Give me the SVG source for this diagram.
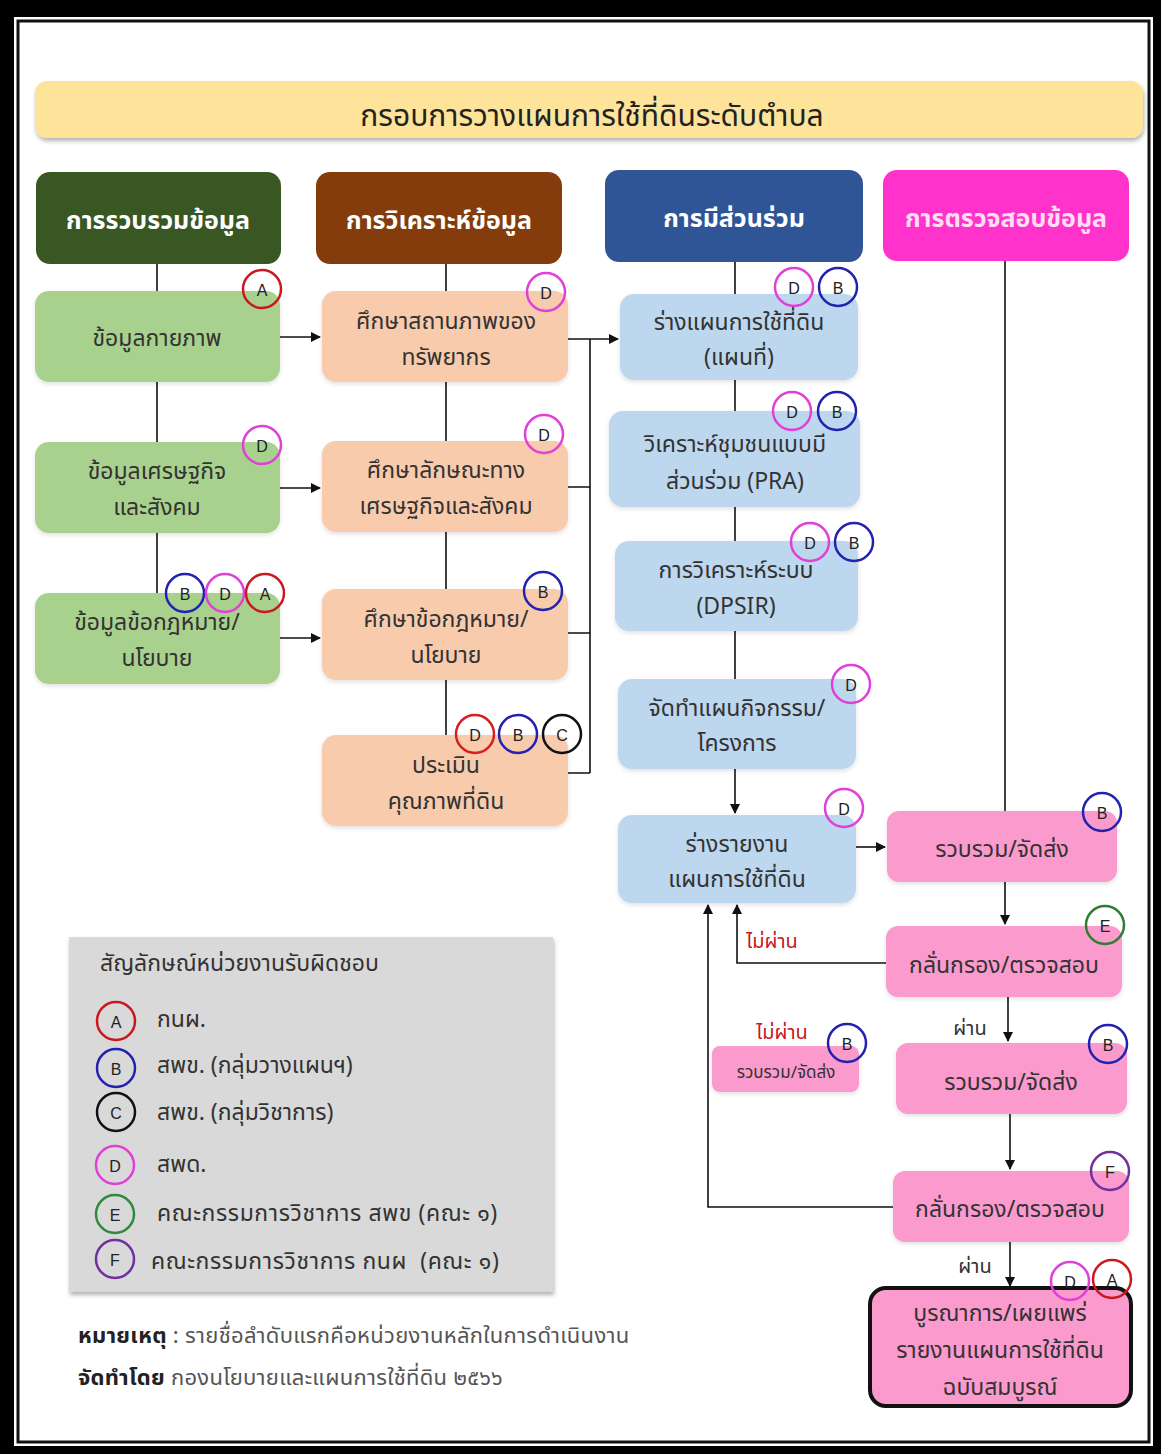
<svg xmlns="http://www.w3.org/2000/svg" width="1161" height="1454" viewBox="0 0 1161 1454">
<defs>
<style>
.t{font-family:"Noto Sans","Noto Sans Thai","DejaVu Sans",sans-serif;fill:#333;font-size:23px;text-anchor:middle;dominant-baseline:central}
.h{font-family:"Noto Sans","Noto Sans Thai","DejaVu Sans",sans-serif;fill:#fff;font-size:25px;font-weight:bold;text-anchor:middle;dominant-baseline:central}
.lg{font-family:"Noto Sans","Noto Sans Thai","DejaVu Sans",sans-serif;fill:#333;font-size:23px;dominant-baseline:central}
.b{font-family:"Liberation Sans",Arial,sans-serif;fill:#222;font-size:16px;text-anchor:middle;dominant-baseline:central}
.bc{fill:none;stroke-width:2.5}
.ln{stroke:#111;stroke-width:1.6;fill:none}
.ar{stroke:#111;stroke-width:1.6;fill:none;marker-end:url(#ah)}
.g{fill:#A9D18E}
.p{fill:#F8CBAD}
.bl{fill:#BDD7EE}
.pk{fill:#FB9ACD}
.red{fill:#C8191E;font-family:"Noto Sans","Noto Sans Thai",sans-serif;font-size:20px;text-anchor:middle;dominant-baseline:central}
</style>
<marker id="ah" markerWidth="10" markerHeight="10" refX="9" refY="5" orient="auto" markerUnits="userSpaceOnUse">
<path d="M0,0 L10,5 L0,10 z" fill="#111"/>
</marker>
<filter id="sh" x="-5%" y="-5%" width="110%" height="120%">
<feDropShadow dx="1" dy="3" stdDeviation="2" flood-color="#000" flood-opacity="0.3"/>
</filter>
<filter id="sh2" x="-5%" y="-5%" width="110%" height="120%">
<feDropShadow dx="0" dy="2" stdDeviation="2" flood-color="#000" flood-opacity="0.12"/>
</filter>
</defs>

<!-- frame -->
<rect x="0" y="0" width="1161" height="1454" fill="#000"/>
<rect x="14" y="17" width="1139" height="1429" fill="#fff"/>
<rect x="18" y="21" width="1131" height="1421" fill="#fff" stroke="#111" stroke-width="3"/>

<!-- title -->
<g id="title">
<rect x="35" y="81" width="1108" height="57" rx="12" fill="#FEE39A" filter="url(#sh)"/>
<text class="t" x="592" y="114" style="font-size:30px;fill:#222">กรอบการวางแผนการใช้ที่ดินระดับตำบล</text>
</g>

<!-- headers -->
<g id="h1"><rect x="36" y="172" width="245" height="92" rx="14" fill="#385723"/><text class="h" x="158" y="219">การรวบรวมข้อมูล</text></g>
<g id="h2"><rect x="316" y="172" width="246" height="92" rx="14" fill="#843C0C"/><text class="h" x="439" y="219">การวิเคราะห์ข้อมูล</text></g>
<g id="h3"><rect x="605" y="170" width="258" height="92" rx="14" fill="#2F5597"/><text class="h" x="734" y="217">การมีส่วนร่วม</text></g>
<g id="h4"><rect x="883" y="170" width="246" height="91" rx="14" fill="#FF33CC"/><text class="h" x="1006" y="217" style="fill:#FFDDF3">การตรวจสอบข้อมูล</text></g>

<!-- connectors -->
<g id="connectors">
<path class="ln" d="M157,264V291M157,382V442M157,533V593"/>
<path class="ln" d="M446,264V291M446,382V441M446,532V589M446,680V735"/>
<path class="ar" d="M280,337H320"/>
<path class="ar" d="M280,488H320"/>
<path class="ar" d="M280,638H320"/>
<path class="ln" d="M568,487H590M568,633H590M568,773H590M590,339V773"/>
<path class="ar" d="M568,339H618"/>
<path class="ln" d="M735,262V294M735,380V411M735,507V541M735,631V679"/>
<path class="ar" d="M735,769V813"/>
<path class="ar" d="M856,847H885"/>
<path class="ln" d="M1005,261V811"/>
<path class="ar" d="M1005,882V924"/>
<path class="ar" d="M886,963H737V905"/>
<path class="ar" d="M1008,997V1041"/>
<path class="ar" d="M1010,1114V1169"/>
<path class="ar" d="M893,1207H708V905"/>
<path class="ar" d="M1010,1242V1286"/>
<text class="red" x="772" y="940">ไม่ผ่าน</text>
<text class="red" x="782" y="1031">ไม่ผ่าน</text>
<text class="t" x="970" y="1027" style="font-size:20px">ผ่าน</text>
<text class="t" x="975" y="1265" style="font-size:20px">ผ่าน</text>
</g>

<!-- column 1 -->
<g id="n1"><rect class="g" x="35" y="291" width="245" height="91" rx="14" filter="url(#sh2)"/><text class="t" x="157" y="337">ข้อมูลกายภาพ</text></g>
<g id="n2"><rect class="g" x="35" y="442" width="245" height="91" rx="14" filter="url(#sh2)"/><text class="t" x="157" y="470">ข้อมูลเศรษฐกิจ</text><text class="t" x="157" y="506">และสังคม</text></g>
<g id="n3"><rect class="g" x="35" y="593" width="245" height="91" rx="14" filter="url(#sh2)"/><text class="t" x="157" y="621">ข้อมูลข้อกฎหมาย/</text><text class="t" x="157" y="657">นโยบาย</text></g>

<!-- column 2 -->
<g id="n4"><rect class="p" x="322" y="291" width="246" height="91" rx="14" filter="url(#sh2)"/><text class="t" x="446" y="320">ศึกษาสถานภาพของ</text><text class="t" x="446" y="356">ทรัพยากร</text></g>
<g id="n5"><rect class="p" x="322" y="441" width="246" height="91" rx="14" filter="url(#sh2)"/><text class="t" x="446" y="469">ศึกษาลักษณะทาง</text><text class="t" x="446" y="505">เศรษฐกิจและสังคม</text></g>
<g id="n6"><rect class="p" x="322" y="589" width="246" height="91" rx="14" filter="url(#sh2)"/><text class="t" x="446" y="618">ศึกษาข้อกฎหมาย/</text><text class="t" x="446" y="654">นโยบาย</text></g>
<g id="n7"><rect class="p" x="322" y="735" width="246" height="91" rx="14" filter="url(#sh2)"/><text class="t" x="446" y="764">ประเมิน</text><text class="t" x="446" y="800">คุณภาพที่ดิน</text></g>

<!-- column 3 -->
<g id="n8"><rect class="bl" x="620" y="294" width="238" height="86" rx="14" filter="url(#sh2)"/><text class="t" x="739" y="321">ร่างแผนการใช้ที่ดิน</text><text class="t" x="739" y="356">(แผนที่)</text></g>
<g id="n9"><rect class="bl" x="609" y="411" width="251" height="96" rx="14" filter="url(#sh2)"/><text class="t" x="735" y="443">วิเคราะห์ชุมชนแบบมี</text><text class="t" x="735" y="480">ส่วนร่วม (PRA)</text></g>
<g id="n10"><rect class="bl" x="615" y="541" width="243" height="90" rx="14" filter="url(#sh2)"/><text class="t" x="736" y="569">การวิเคราะห์ระบบ</text><text class="t" x="736" y="605">(DPSIR)</text></g>
<g id="n11"><rect class="bl" x="618" y="679" width="238" height="90" rx="14" filter="url(#sh2)"/><text class="t" x="737" y="707">จัดทำแผนกิจกรรม/</text><text class="t" x="737" y="742">โครงการ</text></g>
<g id="n12"><rect class="bl" x="618" y="815" width="238" height="88" rx="14" filter="url(#sh2)"/><text class="t" x="737" y="843">ร่างรายงาน</text><text class="t" x="737" y="878">แผนการใช้ที่ดิน</text></g>

<!-- column 4 -->
<g id="n13"><rect class="pk" x="887" y="811" width="230" height="71" rx="12" filter="url(#sh2)"/><text class="t" x="1002" y="848">รวบรวม/จัดส่ง</text></g>
<g id="n14"><rect class="pk" x="886" y="926" width="236" height="71" rx="12" filter="url(#sh2)"/><text class="t" x="1004" y="964">กลั่นกรอง/ตรวจสอบ</text></g>
<g id="n15"><rect class="pk" x="896" y="1043" width="231" height="71" rx="12" filter="url(#sh2)"/><text class="t" x="1011" y="1081">รวบรวม/จัดส่ง</text></g>
<g id="n16"><rect class="pk" x="712" y="1046" width="147" height="46" rx="8" filter="url(#sh2)"/><text class="t" x="786" y="1071" style="font-size:17px">รวบรวม/จัดส่ง</text></g>
<g id="n17"><rect class="pk" x="893" y="1171" width="236" height="71" rx="12" filter="url(#sh2)"/><text class="t" x="1010" y="1208">กลั่นกรอง/ตรวจสอบ</text></g>
<g id="n18"><rect class="pk" x="870" y="1288" width="261" height="118" rx="16" stroke="#111" stroke-width="4"/><text class="t" x="1000" y="1312">บูรณาการ/เผยแพร่</text><text class="t" x="1000" y="1349">รายงานแผนการใช้ที่ดิน</text><text class="t" x="1000" y="1386">ฉบับสมบูรณ์</text></g>

<!-- badges -->
<g id="badges">
<circle class="bc" cx="262" cy="289" r="19" stroke="#C8191E"/><text class="b" x="262" y="290">A</text>
<circle class="bc" cx="262" cy="445" r="19" stroke="#E040D8"/><text class="b" x="262" y="446">D</text>
<circle class="bc" cx="185" cy="593" r="19" stroke="#2222B0"/><text class="b" x="185" y="594">B</text>
<circle class="bc" cx="225" cy="593" r="19" stroke="#E040D8"/><text class="b" x="225" y="594">D</text>
<circle class="bc" cx="265" cy="593" r="19" stroke="#C8191E"/><text class="b" x="265" y="594">A</text>

<circle class="bc" cx="546" cy="292" r="19" stroke="#E040D8"/><text class="b" x="546" y="293">D</text>
<circle class="bc" cx="544" cy="434" r="19" stroke="#E040D8"/><text class="b" x="544" y="435">D</text>
<circle class="bc" cx="543" cy="591" r="19" stroke="#2222B0"/><text class="b" x="543" y="592">B</text>
<circle class="bc" cx="475" cy="734" r="19" stroke="#D81E1E"/><text class="b" x="475" y="735">D</text>
<circle class="bc" cx="518" cy="734" r="19" stroke="#2222B0"/><text class="b" x="518" y="735">B</text>
<circle class="bc" cx="562" cy="734" r="19" stroke="#111"/><text class="b" x="562" y="735">C</text>

<circle class="bc" cx="794" cy="287" r="19" stroke="#E040D8"/><text class="b" x="794" y="288">D</text>
<circle class="bc" cx="838" cy="287" r="19" stroke="#2222B0"/><text class="b" x="838" y="288">B</text>
<circle class="bc" cx="792" cy="411" r="19" stroke="#E040D8"/><text class="b" x="792" y="412">D</text>
<circle class="bc" cx="837" cy="411" r="19" stroke="#2222B0"/><text class="b" x="837" y="412">B</text>
<circle class="bc" cx="810" cy="542" r="19" stroke="#E040D8"/><text class="b" x="810" y="543">D</text>
<circle class="bc" cx="854" cy="542" r="19" stroke="#2222B0"/><text class="b" x="854" y="543">B</text>
<circle class="bc" cx="851" cy="684" r="19" stroke="#E040D8"/><text class="b" x="851" y="685">D</text>
<circle class="bc" cx="844" cy="808" r="19" stroke="#E040D8"/><text class="b" x="844" y="809">D</text>

<circle class="bc" cx="1102" cy="812" r="19" stroke="#2222B0"/><text class="b" x="1102" y="813">B</text>
<circle class="bc" cx="1105" cy="925" r="19" stroke="#2E7D32"/><text class="b" x="1105" y="926">E</text>
<circle class="bc" cx="1108" cy="1044" r="19" stroke="#2222B0"/><text class="b" x="1108" y="1045">B</text>
<circle class="bc" cx="847" cy="1043" r="19" stroke="#2222B0"/><text class="b" x="847" y="1044">B</text>
<circle class="bc" cx="1110" cy="1171" r="19" stroke="#7030A0"/><text class="b" x="1110" y="1172">F</text>
<circle class="bc" cx="1070" cy="1281" r="19" stroke="#E040D8"/><text class="b" x="1070" y="1282">D</text>
<circle class="bc" cx="1112" cy="1279" r="19" stroke="#C8191E"/><text class="b" x="1112" y="1280">A</text>
</g>

<!-- legend -->
<g id="legend">
<rect x="69" y="937" width="484" height="355" fill="#D9D9D9" filter="url(#sh)"/>
<text class="lg" x="100" y="962">สัญลักษณ์หน่วยงานรับผิดชอบ</text>
<circle class="bc" cx="116" cy="1021" r="19" stroke="#C8191E"/><text class="b" x="116" y="1022">A</text>
<text class="lg" x="157" y="1018">กนผ.</text>
<circle class="bc" cx="116" cy="1068" r="19" stroke="#2222B0"/><text class="b" x="116" y="1069">B</text>
<text class="lg" x="157" y="1064">สพข. (กลุ่มวางแผนฯ)</text>
<circle class="bc" cx="116" cy="1112" r="19" stroke="#111"/><text class="b" x="116" y="1113">C</text>
<text class="lg" x="157" y="1111">สพข. (กลุ่มวิชาการ)</text>
<circle class="bc" cx="115" cy="1165" r="19" stroke="#E040D8"/><text class="b" x="115" y="1166">D</text>
<text class="lg" x="157" y="1163">สพด.</text>
<circle class="bc" cx="115" cy="1214" r="19" stroke="#2E8B3E"/><text class="b" x="115" y="1215">E</text>
<text class="lg" x="157" y="1212" style="letter-spacing:0.6px">คณะกรรมการวิชาการ สพข (คณะ ๑)</text>
<circle class="bc" cx="115" cy="1259" r="19" stroke="#7030A0"/><text class="b" x="115" y="1260">F</text>
<text class="lg" x="151" y="1260" xml:space="preserve" style="letter-spacing:0.6px">คณะกรรมการวิชาการ กนผ  (คณะ ๑)</text>
</g>

<!-- notes -->
<g id="notes">
<text class="lg" x="78" y="1334" style="font-size:22px;letter-spacing:0.3px"><tspan font-weight="bold" fill="#222">หมายเหตุ</tspan><tspan fill="#555"> : รายชื่อลำดับแรกคือหน่วยงานหลักในการดำเนินงาน</tspan></text>
<text class="lg" x="78" y="1376" style="font-size:22px;letter-spacing:0.3px"><tspan font-weight="bold" fill="#222">จัดทำโดย</tspan><tspan fill="#555"> กองนโยบายและแผนการใช้ที่ดิน ๒๕๖๖</tspan></text>
</g>
</svg>
